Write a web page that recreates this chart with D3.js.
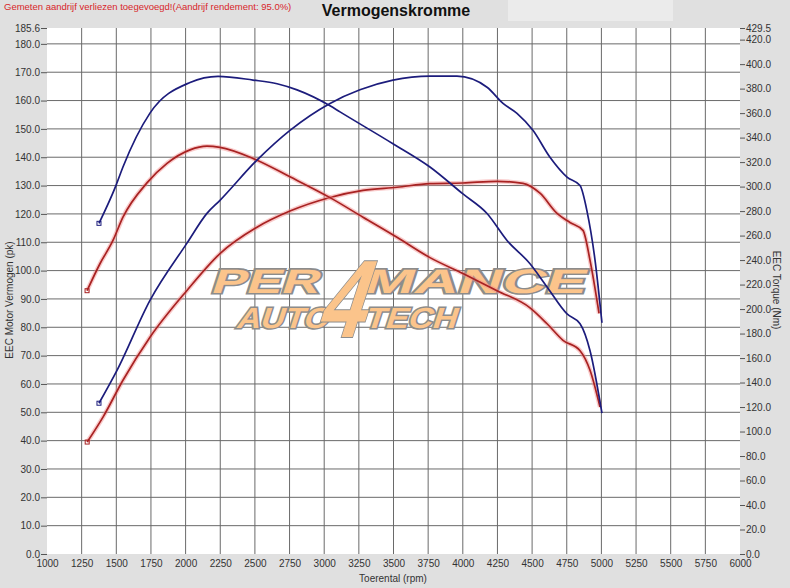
<!DOCTYPE html>
<html>
<head>
<meta charset="utf-8">
<script src="https://cdn.jsdelivr.net/npm/d3@7"></script>
<style>
  body { margin: 0; background: #e0e0e0; }
  svg { display: block; font-family: "Liberation Sans", Arial, sans-serif; }
</style>
</head>
<body>
<div id="grafiek"></div>
<script>
// toerental (rpm) en waarden
const rpmVermogenBlauw = [1375, 1505, 1743, 2010, 2154, 2248, 2515, 2753, 3042, 3258, 3496, 3763, 3958, 4175, 4290, 4391, 4506, 4629, 4752, 4846, 4896, 4954, 5004];
const vermogenBlauw    = [53.2, 64.8, 89.5, 109.7, 120.2, 124.8, 139, 149.5, 159, 163.8, 167.2, 168.6, 168.6, 164.7, 159, 155.5, 149.5, 140, 133, 130, 121, 103.7, 81.6];

const rpmKoppelBlauw = [1375, 1498, 1548, 1743, 2032, 2234, 2486, 2660, 2804, 3042, 3114, 3496, 3763, 4001, 4175, 4319, 4485, 4608, 4752, 4846, 4918, 5004];
const koppelBlauw    = [270, 301, 316, 360, 385, 390, 387, 384, 379, 366, 361, 335, 316, 294, 278, 256, 237, 218, 196, 188, 166, 115];

const rpmVermogenRood = [1290, 1404, 1548, 1743, 2010, 2248, 2515, 2753, 3042, 3280, 3525, 3763, 4001, 4247, 4434, 4557, 4680, 4773, 4867, 4918, 4983];
const vermogenRood    = [39.5, 48.3, 61.3, 76.5, 93, 106, 115.3, 121, 125.8, 128.3, 129.4, 130.7, 130.9, 131.5, 130.8, 127.3, 120.2, 117, 114.2, 103.6, 84.9];

const rpmKoppelRood = [1289, 1382, 1476, 1548, 1721, 1866, 2032, 2154, 2248, 2486, 2753, 3042, 3280, 3525, 3763, 4001, 4247, 4485, 4608, 4723, 4846, 4918, 4990];
const koppelRood    = [215, 237, 256, 275, 303, 319, 330, 333, 332, 323, 308, 291, 275, 258.6, 242, 229, 215, 201, 188, 174.5, 166, 150, 120];

const xTicks = d3.range(1000, 6001, 250);
const linksTicks = d3.range(0, 181, 10).concat([185.6]);
const rechtsTicks = d3.range(0, 421, 20).concat([429.5]);

const breedte = 790, hoogte = 588;
const marge = { links: 47, rechts: 50, boven: 28, onder: 34 };

const svg = d3.select("#grafiek")
    .append("svg")
    .attr("width", breedte)
    .attr("height", hoogte);

svg.append("rect").attr("width", breedte).attr("height", hoogte).attr("fill", "#e0e0e0");
svg.append("rect").attr("x", 508).attr("y", 0).attr("width", 165).attr("height", 21).attr("fill", "#ebebeb");

const x = d3.scaleLinear().domain([1000, 6000]).range([marge.links, breedte - marge.rechts]);
const yLinks = d3.scaleLinear().domain([0, 185.6]).range([hoogte - marge.onder, marge.boven]);
const yRechts = d3.scaleLinear().domain([0, 429.5]).range([hoogte - marge.onder, marge.boven]);

// witte plotvlak
svg.append("rect")
    .attr("x", x(1000)).attr("y", yLinks(185.6))
    .attr("width", x(6000) - x(1000)).attr("height", yLinks(0) - yLinks(185.6))
    .attr("fill", "white");

// rasterlijnen
const raster = svg.append("g");
raster.selectAll(".h").data(d3.range(10, 181, 10)).join("line")
    .attr("x1", x(1000)).attr("x2", x(6000))
    .attr("y1", d => yLinks(d)).attr("y2", d => yLinks(d))
    .attr("stroke", "#6a6a6a").attr("stroke-width", 1);
raster.selectAll(".v").data(xTicks.slice(1, -1)).join("line")
    .attr("x1", d => x(d)).attr("x2", d => x(d))
    .attr("y1", yLinks(0)).attr("y2", yLinks(185.6))
    .attr("stroke", "#6a6a6a").attr("stroke-width", 1);

// logo (watermerk), achter de curves
const logo = svg.append("g").attr("transform", "skewX(-18)");
function logoTekst(tekst, lx, ly, grootte, lengte, rand) {
    logo.append("text")
        .attr("x", lx).attr("y", ly)
        .attr("textLength", lengte).attr("lengthAdjust", "spacingAndGlyphs")
        .style("font-size", grootte + "px").style("font-weight", "bold")
        .attr("fill", "#fbc48b").attr("stroke", "#8c8c8c").attr("stroke-width", rand)
        .attr("paint-order", "stroke")
        .text(tekst);
}
logoTekst("PER", 305, 293, 34, 108, 3);
logoTekst("MANCE", 457, 293, 34, 222, 3);
logoTekst("AUTO", 342, 328, 29, 92, 3);
logoTekst("TECH", 470, 328, 29, 92, 3);
logoTekst("4", 424, 337, 110, 46, 2);

// assen
const asLinks = svg.append("g")
    .attr("transform", "translate(" + x(1000) + ",0)")
    .call(d3.axisLeft(yLinks).tickValues(linksTicks).tickFormat(d3.format(".1f")).tickSize(6).tickPadding(1));
const asRechts = svg.append("g")
    .attr("transform", "translate(" + x(6000) + ",0)")
    .call(d3.axisRight(yRechts).tickValues(rechtsTicks).tickFormat(d3.format(".1f")).tickSize(5).tickPadding(1));
const asX = svg.append("g")
    .attr("transform", "translate(0," + yLinks(0) + ")")
    .call(d3.axisBottom(x).tickValues(xTicks).tickFormat(d3.format("d")).tickSize(0).tickPadding(6));

[asLinks, asRechts, asX].forEach(a => {
    a.select(".domain").remove();
    a.selectAll("line").attr("stroke", "#555");
    a.selectAll("text").attr("fill", "#333").style("font-size", "10px");
});

// as titels
svg.append("text")
    .attr("transform", "translate(13," + 300 + ") rotate(-90)")
    .attr("text-anchor", "middle").attr("fill", "#333").style("font-size", "10px")
    .text("EEC Motor Vermogen (pk)");
svg.append("text")
    .attr("transform", "translate(773," + 290 + ") rotate(90)")
    .attr("text-anchor", "middle").attr("fill", "#333").style("font-size", "10px")
    .text("EEC Torque (Nm)");
svg.append("text")
    .attr("x", 393).attr("y", 582)
    .attr("text-anchor", "middle").attr("fill", "#333").style("font-size", "10px")
    .text("Toerental (rpm)");

// titel en melding
svg.append("text")
    .attr("x", 396).attr("y", 16)
    .attr("text-anchor", "middle").attr("fill", "#111")
    .style("font-size", "16px").style("font-weight", "bold")
    .text("Vermogenskromme");
svg.append("text")
    .attr("x", 4).attr("y", 10)
    .attr("fill", "#d8262a").style("font-size", "9.5px")
    .text("Gemeten aandrijf verliezen toegevoegd!(Aandrijf rendement: 95.0%)");

// curves
function tekenCurve(rpm, waarden, schaal, kleur, gloed) {
    const punten = rpm.map((r, i) => [r, waarden[i]]);
    const lijn = d3.line()
        .x(d => x(d[0])).y(d => schaal(d[1]))
        .curve(d3.curveMonotoneX);
    if (gloed) {
        svg.append("path").datum(punten)
            .attr("d", lijn).attr("fill", "none")
            .attr("stroke", gloed).attr("stroke-width", 4.5).attr("opacity", 0.45);
    }
    svg.append("path").datum(punten)
        .attr("d", lijn).attr("fill", "none")
        .attr("stroke", kleur).attr("stroke-width", 1.7);
    svg.append("rect")
        .attr("x", x(rpm[0]) - 2).attr("y", schaal(waarden[0]) - 2)
        .attr("width", 4).attr("height", 4)
        .attr("fill", "none").attr("stroke", kleur).attr("stroke-width", 1);
}

tekenCurve(rpmVermogenRood, vermogenRood, yLinks, "#a82222", "#f28a8a");
tekenCurve(rpmKoppelRood, koppelRood, yRechts, "#a82222", "#f28a8a");
tekenCurve(rpmVermogenBlauw, vermogenBlauw, yLinks, "#1c1c7c", null);
tekenCurve(rpmKoppelBlauw, koppelBlauw, yRechts, "#1c1c7c", null);
</script>
</body>
</html>
